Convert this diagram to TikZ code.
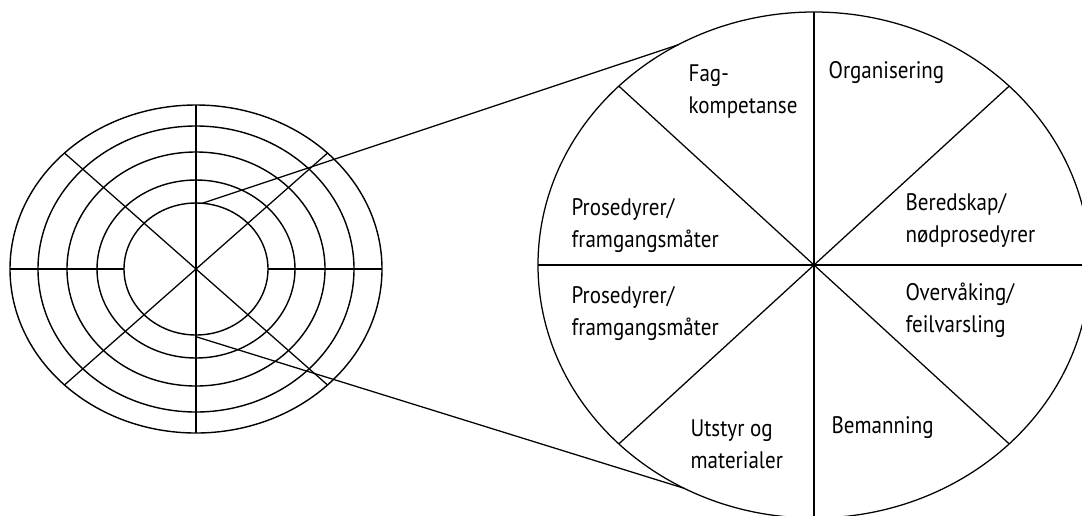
\documentclass[tikz,border=0pt]{standalone}
\usepackage{fontspec}
\setmainfont{PT Sans}[FakeStretch=0.88]
\usetikzlibrary{calc}

\begin{document}
\begin{tikzpicture}[x=0.025cm,y=-0.025cm,line width=0.9pt]
\tikzstyle{every node}+=[inner sep=0pt]
\tikzstyle{lbl}=[anchor=base west,align=left,font=\fontsize{17}{22.7}\selectfont]
\useasboundingbox (0,0) rectangle (1082,515);
\coordinate (lc) at (196,269);
\coordinate (rc) at (814,265);
\foreach \rx/\ry in {72/66,99/89,129/117,158/143,186/164}
  \draw [black,line width=1pt] (lc) ellipse [x radius=\rx, y radius=\ry];
\draw [black] ($(lc)+(0,-164)$) -- ($(lc)+(0,164)$);
\draw [black] ($(lc)+(-186,0)$) -- ($(lc)+(-72,0)$);
\draw [black] ($(lc)+(72,0)$) -- ($(lc)+(186,0)$);
\draw [black] ($(lc)+(45:186 and 164)$) -- ($(lc)+(225:186 and 164)$);
\draw [black] ($(lc)+(135:186 and 164)$) -- ($(lc)+(315:186 and 164)$);
\draw [black] (rc) ellipse [x radius=276, y radius=253];
\draw [black] ($(rc)+(0,-253)$) -- ($(rc)+(0,253)$);
\draw [black] ($(rc)+(-276,0)$) -- ($(rc)+(276,0)$);
\draw [black] ($(rc)+(45:276 and 253)$) -- ($(rc)+(225:276 and 253)$);
\draw [black] ($(rc)+(135:276 and 253)$) -- ($(rc)+(315:276 and 253)$);
\coordinate (up0) at ($(lc)+(275:72 and 66)$);
\coordinate (up1) at ($(rc)+(240.5:276 and 253)$);
\coordinate (lo0) at ($(lc)+(1,68)$);
\coordinate (lo1) at ($(rc)+(118:276 and 253)$);
\draw [black] (up0) -- (up1);
\draw [black] (lo0) -- (lo1);
\node [lbl] (fag) at (688,113) {Fag-\\kompetanse};
\node [lbl] (org) at (828,78) {Organisering};
\node [lbl] (pro1) at (571,247) {Prosedyrer/\\framgangsmåter};
\node [lbl] (bered) at (905,242) {Beredskap/\\nødprosedyrer};
\node [lbl] (pro2) at (571,335) {Prosedyrer/\\framgangsmåter};
\node [lbl] (overv) at (905,332) {Overvåking/\\feilvarsling};
\node [lbl] (utstyr) at (690,468) {Utstyr og\\materialer};
\node [lbl] (beman) at (831,433) {Bemanning};
\end{tikzpicture}
\end{document}
